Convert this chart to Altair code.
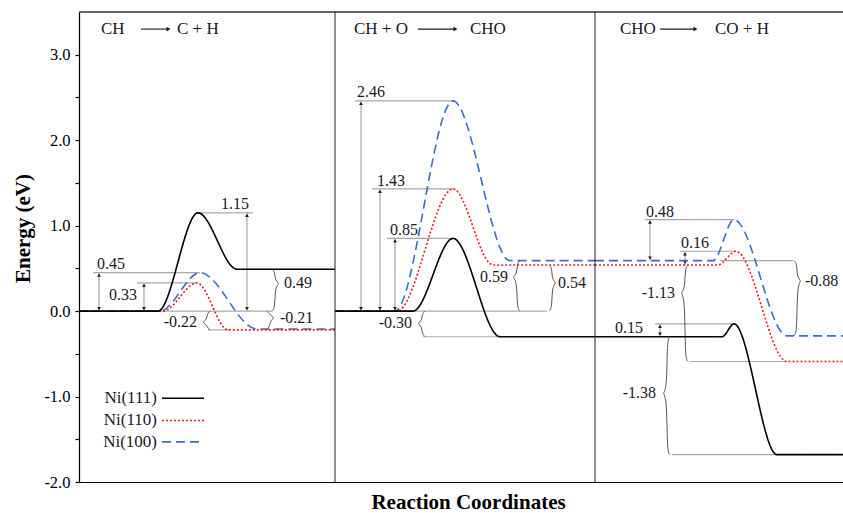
import altair as alt
import pandas as pd

FONT = "Times New Roman, Liberation Serif, Tinos, serif"

# ---- energetics (eV) --------------------------------------------------------
surfaces = ["Ni(111)", "Ni(110)", "Ni(100)"]
reactants = ["CH", "CH + O", "CHO"]
products = ["C + H", "CHO", "CO + H"]

# activation barriers of each step, ordered like `surfaces`
barriers = [
    [1.15, 0.33, 0.45],
    [0.85, 1.43, 2.46],
    [0.15, 0.16, 0.48],
]
# reaction energies of each step
reaction_energies = [
    [0.49, -0.22, -0.21],
    [-0.30, 0.54, 0.59],
    [-1.38, -1.13, -0.88],
]

# steps 1 and 2 start from zero; step 3 starts from the CHO state of step 2
initial = [[0.0, 0.0, 0.0], [0.0, 0.0, 0.0]]
initial.append([round(initial[1][k] + reaction_energies[1][k], 2) for k in range(3)])


def e_start(p, s):
    return initial[p][s]


def e_ts(p, s):
    return round(initial[p][s] + barriers[p][s], 2)


def e_end(p, s):
    return round(initial[p][s] + reaction_energies[p][s], 2)


I111, I110, I100 = 0, 1, 2

# ---- layout along the reaction coordinate -----------------------------------
X_MAX = 764
panel_edges = [0, 256, 516, 764]
rise_x = [[79, 84, 81], [334, 318, 316], [643, 639, 634]]
peak_x = [[119, 118, 121], [374, 374, 374], [655, 657, 655]]
fall_x = [[158, 149, 178], [421, 414, 431], [698, 708, 708]]

WIDTH, HEIGHT = 764, 470
Y_MIN, Y_MAX = -2.0, 3.5
PX_PER_EV = HEIGHT / (Y_MAX - Y_MIN)

colors = ["#000000", "#e42320", "#3a6fc4"]
dashes = [[1, 0], [2, 2], [9, 5]]
GUIDE = "#a9a9a9"
INK = "#1a1a1a"

# ---- energy profiles --------------------------------------------------------
rows = []
for p in range(3):
    for s in range(3):
        pts = [
            (panel_edges[p], e_start(p, s)),
            (rise_x[p][s], e_start(p, s)),
            (peak_x[p][s], e_ts(p, s)),
            (fall_x[p][s], e_end(p, s)),
            (panel_edges[p + 1], e_end(p, s)),
        ]
        for x, e in pts:
            rows.append({"x": x, "y": e, "surface": surfaces[s],
                         "series": f"{surfaces[s]}-{p}"})
profiles = pd.DataFrame(rows)

# ---- guide lines at the levels being compared -------------------------------
guides = pd.DataFrame(
    [
        (14, 121, e_ts(0, I100)),
        (58, 118, e_ts(0, I110)),
        (118, 174, e_ts(0, I111)),
        (81, 193, 0.0),
        (129, 151, e_end(0, I110)),
        (276, 374, e_ts(1, I100)),
        (293, 374, e_ts(1, I110)),
        (308, 374, e_ts(1, I111)),
        (318, 468, 0.0),
        (344, 421, e_end(1, I111)),
        (566, 655, e_ts(2, I100)),
        (601, 657, e_ts(2, I110)),
        (576, 655, e_ts(2, I111)),
        (641, 714, e_start(2, I100)),
        (611, 708, e_end(2, I110)),
        (593, 698, e_end(2, I111)),
    ],
    columns=["x", "x2", "y"],
)

# ---- barrier arrows ---------------------------------------------------------
# (x, step, surface, label x, label align, label anchor, label offset px)
barrier_arrows = [
    (20, 0, I100, 18, "left", "top", -9),
    (65, 0, I110, 30, "left", "top", 12),
    (168, 0, I111, 142, "left", "top", -9),
    (282, 1, I100, 278, "left", "top", -9),
    (301, 1, I110, 298, "left", "top", -8),
    (316, 1, I111, 311, "left", "top", -8),
    (571, 2, I100, 567, "left", "top", -8),
    (606, 2, I110, 602, "left", "top", -8),
    (581, 2, I111, 564, "right", "bottom", -9),
]
arrow_rows, label_rows = [], []
for x, p, s, lx, al, anchor, dy in barrier_arrows:
    top, bot = e_ts(p, s), e_start(p, s)
    arrow_rows.append({"x": x, "y": top, "y2": bot})
    base = top if anchor == "top" else bot
    label_rows.append({"x": lx, "y": base - dy / PX_PER_EV,
                       "text": f"{barriers[p][s]:.2f}", "align": al})
arrows = pd.DataFrame(arrow_rows)

# ---- braces for reaction energies -------------------------------------------
# (x, step, surface, side: +1 opens left / -1 opens right, tip fraction, label x, align)
braces = [
    (196, 0, I111, 1, 0.34, 205, "left"),
    (191, 0, I100, 1, 0.38, 201, "left"),
    (128, 0, I110, -1, 0.60, 118, "right"),
    (438, 1, I100, -1, 0.33, 429, "right"),
    (473, 1, I110, 1, 0.39, 479, "left"),
    (343, 1, I111, -1, 0.48, 333, "right"),
    (606, 2, I110, -1, 0.29, 596, "right"),
    (718, 2, I100, 1, 0.27, 726, "left"),
    (588, 2, I111, -1, 0.48, 577, "right"),
]
brace_rows = []
for i, (x, p, s, side, frac, lx, al) in enumerate(braces):
    a, b = e_start(p, s), e_end(p, s)
    top, bot = max(a, b), min(a, b)
    hook = min(3.0, (top - bot) * PX_PER_EV / 5) / PX_PER_EV
    mid = top - frac * (top - bot)
    shape = [
        (x - side * 3, top), (x, top - hook), (x, mid + hook),
        (x + side * 5, mid),
        (x, mid - hook), (x, bot + hook), (x - side * 3, bot),
    ]
    for k, (bx, by) in enumerate(shape):
        brace_rows.append({"x": bx, "y": by, "brace": i, "k": k})
    label_rows.append({"x": lx, "y": mid, "text": f"{reaction_energies[p][s]:.2f}",
                       "align": al})
brace_df = pd.DataFrame(brace_rows)
labels = pd.DataFrame(label_rows)

# ---- step titles ------------------------------------------------------------
TITLE_Y = 3.30
reactant_x = [22, 275, 541]
arrow_from = [62, 339, 581]
arrow_to = [92, 379, 619]
product_x = [98, 391, 636]
titles = pd.DataFrame(
    {"x": reactant_x + product_x, "y": TITLE_Y, "text": reactants + products}
)
title_arrows = pd.DataFrame(
    {"x": arrow_from, "x2": [t - 3 for t in arrow_to], "tip": [t - 2.5 for t in arrow_to],
     "y": TITLE_Y}
)

# ---- legend -----------------------------------------------------------------
legend = pd.DataFrame(
    {"surface": surfaces, "y": [-1.02, -1.28, -1.53], "tx": 78, "x": 83, "x2": 125}
)

# ---- frame ------------------------------------------------------------------
dividers = pd.DataFrame({"x": panel_edges[1:3], "y": Y_MIN, "y2": Y_MAX})
top_edge = pd.DataFrame({"x": [0], "x2": [X_MAX], "y": [Y_MAX]})

# ---- scales and axes --------------------------------------------------------
xs = alt.Scale(domain=[0, X_MAX], nice=False, zero=False)
ys = alt.Scale(domain=[Y_MIN, Y_MAX], nice=False, zero=False)
x_axis = alt.Axis(
    ticks=False, labels=False, grid=False, domainColor="#000", domainWidth=1.2,
    title="Reaction Coordinates", titleFont=FONT, titleFontSize=21,
    titleFontWeight="bold", titleColor="#000", titlePadding=9, titleX=389,
)
y_axis = alt.Axis(
    values=[-2.0, -1.5, -1.0, -0.5, 0.0, 0.5, 1.0, 1.5, 2.0, 2.5, 3.0],
    labelExpr="datum.value % 1 == 0 ? (datum.value < 0 ? '-' + format(-datum.value, '.1f') : format(datum.value, '.1f')) : ''",
    grid=False, tickSize=4, tickColor="#000", tickWidth=1.2,
    domainColor="#000", domainWidth=1.2,
    labelFont=FONT, labelFontSize=16.5, labelColor="#000", labelPadding=5,
    title="Energy (eV)", titleFont=FONT, titleFontSize=21, titleFontWeight="bold",
    titleColor="#000", titlePadding=10, titleY=216,
)


def X(field="x"):
    return alt.X(f"{field}:Q", scale=xs, axis=x_axis)


def Y(field="y"):
    return alt.Y(f"{field}:Q", scale=ys, axis=y_axis)


color_scale = alt.Scale(domain=surfaces, range=colors)
dash_scale = alt.Scale(domain=surfaces, range=dashes)

layers = []

layers.append(
    alt.Chart(guides).mark_rule(color=GUIDE, strokeWidth=1.2)
    .encode(x=X(), x2=alt.X2("x2:Q"), y=Y())
)
layers.append(
    alt.Chart(arrows).mark_rule(color=GUIDE, strokeWidth=1.2)
    .encode(x=X(), y=Y(), y2=alt.Y2("y2:Q"))
)
layers.append(
    alt.Chart(arrows).mark_point(shape="triangle-up", filled=True, size=14,
                                 color=INK, opacity=1, yOffset=2.5)
    .encode(x=X(), y=Y())
)
layers.append(
    alt.Chart(arrows).mark_point(shape="triangle-down", filled=True, size=14,
                                 color=INK, opacity=1, yOffset=-2.5)
    .encode(x=X(), y=Y("y2"))
)
layers.append(
    alt.Chart(brace_df).mark_line(interpolate="basis", color="#555555", strokeWidth=1)
    .encode(x=X(), y=Y(), detail="brace:N", order="k:Q")
)

# profiles: Ni(100) first so that Ni(111) stays on top
for s in [I100, I110, I111]:
    layers.append(
        alt.Chart(profiles[profiles["surface"] == surfaces[s]])
        .mark_line(interpolate="monotone", strokeWidth=1.6)
        .encode(
            x=X(), y=Y(),
            color=alt.Color("surface:N", scale=color_scale, legend=None),
            strokeDash=alt.StrokeDash("surface:N", scale=dash_scale, legend=None),
            detail="series:N",
        )
    )

for al in ["left", "right"]:
    layers.append(
        alt.Chart(labels[labels["align"] == al])
        .mark_text(font=FONT, fontSize=16, align=al, baseline="middle", color=INK)
        .encode(x=X(), y=Y(), text="text:N")
    )

layers.append(
    alt.Chart(titles)
    .mark_text(font=FONT, fontSize=17, align="left", baseline="middle", color=INK)
    .encode(x=X(), y=Y(), text="text:N")
)
layers.append(
    alt.Chart(title_arrows).mark_rule(color=INK, strokeWidth=1.1)
    .encode(x=X(), x2=alt.X2("x2:Q"), y=Y())
)
layers.append(
    alt.Chart(title_arrows).mark_point(shape="triangle-right", filled=True, size=22,
                                       color=INK, opacity=1)
    .encode(x=X("tip"), y=Y())
)

layers.append(
    alt.Chart(legend).mark_rule(strokeWidth=1.6)
    .encode(
        x=X(), x2=alt.X2("x2:Q"), y=Y(),
        color=alt.Color("surface:N", scale=color_scale, legend=None),
        strokeDash=alt.StrokeDash("surface:N", scale=dash_scale, legend=None),
    )
)
layers.append(
    alt.Chart(legend)
    .mark_text(font=FONT, fontSize=17, align="right", baseline="middle", color=INK)
    .encode(x=X("tx"), y=Y(), text="surface:N")
)

layers.append(
    alt.Chart(dividers).mark_rule(color="#333333", strokeWidth=1.1)
    .encode(x=X(), y=Y(), y2=alt.Y2("y2:Q"))
)
layers.append(
    alt.Chart(top_edge).mark_rule(color="#333333", strokeWidth=1.3)
    .encode(x=X(), x2=alt.X2("x2:Q"), y=Y())
)

chart = (
    alt.layer(*layers)
    .properties(
        width=WIDTH, height=HEIGHT, autosize="none",
        padding={"left": 79, "top": 12, "right": 0, "bottom": 31},
        background="white",
    )
    .configure_view(stroke=None)
)

chart.save("out.html", embed_options={"renderer": "svg", "actions": False})
